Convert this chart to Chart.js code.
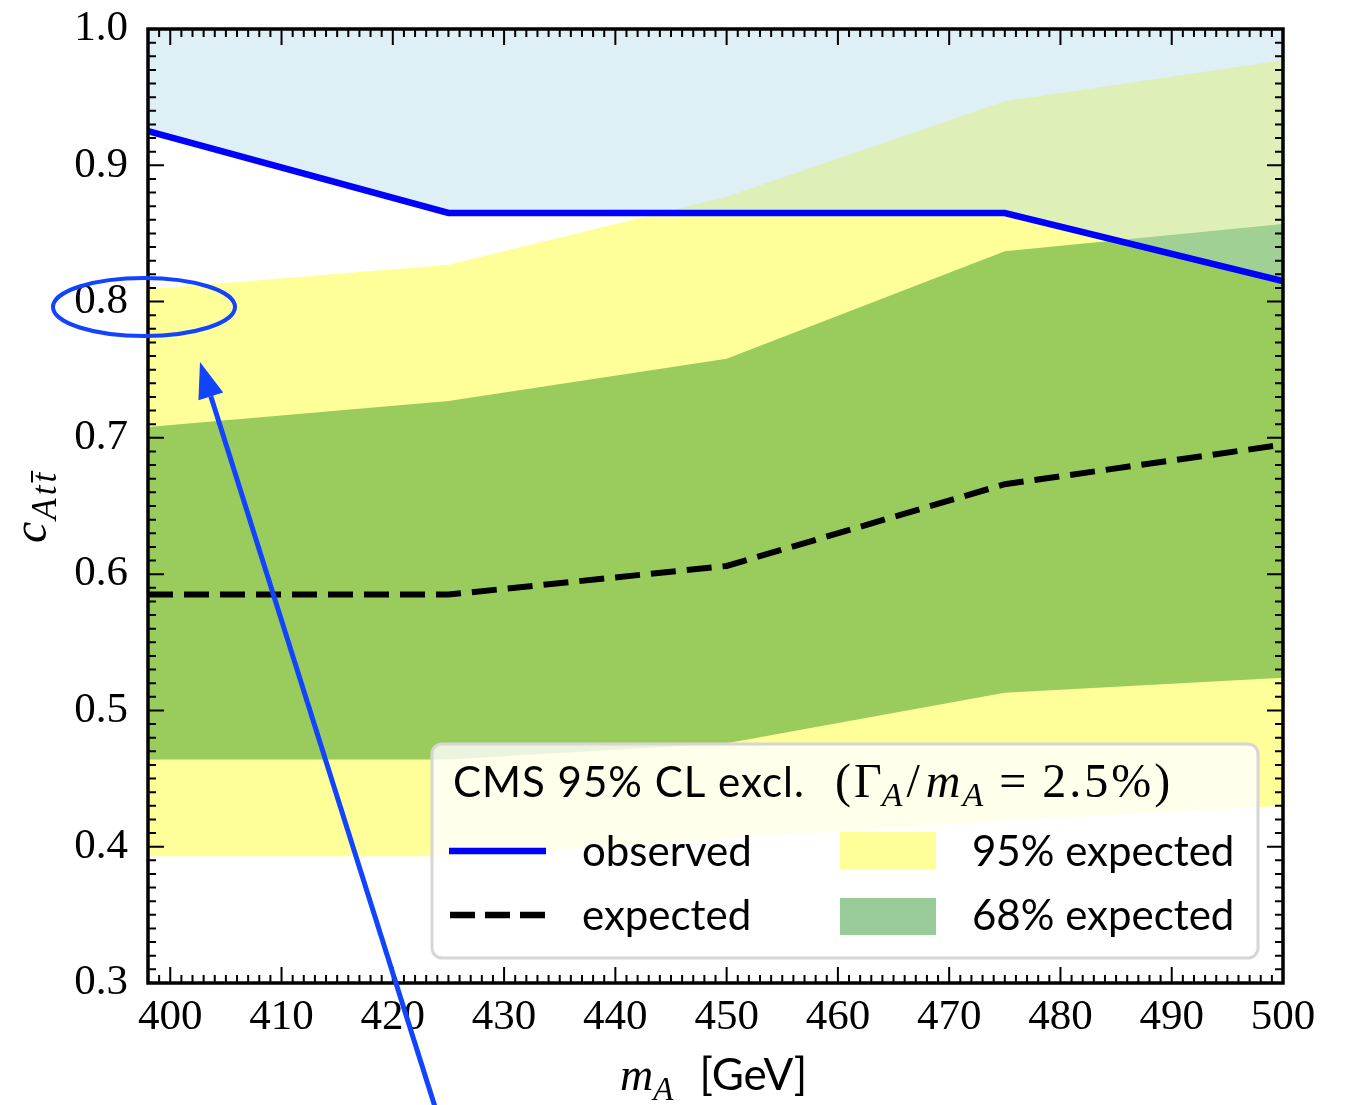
<!DOCTYPE html>
<html>
<head>
<meta charset="utf-8">
<script src="https://cdn.jsdelivr.net/npm/chart.js@4.4.1/dist/chart.umd.min.js"></script>
<style>
  html, body { margin: 0; padding: 0; background: #fff; }
  canvas { display: block; }
</style>
</head>
<body>
<canvas id="limits" width="1347" height="1105"></canvas>
<script>
// m_A grid (GeV) and the limits
const massPoints = [398, 425, 450, 475, 500];
const observed = [0.925, 0.865, 0.865, 0.865, 0.815];
const expected = [0.585, 0.585, 0.606, 0.666, 0.695];
const band68Low = [0.464, 0.464, 0.476, 0.513, 0.524];
const band68High = [0.708, 0.727, 0.758, 0.837, 0.857];
const band95Low = [0.393, 0.393, 0.406, 0.419, 0.430];
const band95High = [0.809, 0.827, 0.877, 0.947, 0.977];

const xTicks = [400, 410, 420, 430, 440, 450, 460, 470, 480, 490, 500];
const yTicks = [0.3, 0.4, 0.5, 0.6, 0.7, 0.8, 0.9, 1.0];

const serif = '"Liberation Serif", serif';
const sans = 'Lato, "Noto Sans", sans-serif';
const annotBlue = '#1244ff';

const pts = ys => massPoints.map((x, i) => ({ x: x, y: ys[i] }));

function drawPieces(ctx, x, y, pieces) {
    for (const p of pieces) {
        ctx.font = p.font;
        ctx.letterSpacing = p.spacing || '0px';
        x += p.before || 0;
        ctx.fillText(p.text, x, y + (p.dy || 0));
        x += ctx.measureText(p.text).width + (p.after || 0);
    }
    ctx.letterSpacing = '0px';
    return x;
}

const decorations = {
    id: 'decorations',
    afterDraw(chart) {
        const ctx = chart.ctx;
        const area = chart.chartArea;
        const xs = chart.scales.x;
        const ys = chart.scales.y;

        // inward ticks on all four sides
        ctx.save();
        ctx.strokeStyle = '#000';
        ctx.lineWidth = 2;
        ctx.beginPath();
        for (let m = 398; m <= 500; m++) {
            const px = xs.getPixelForValue(m);
            const len = m % 10 === 0 ? 16 : 8;
            ctx.moveTo(px, area.bottom); ctx.lineTo(px, area.bottom - len);
            ctx.moveTo(px, area.top); ctx.lineTo(px, area.top + len);
        }
        for (let k = 30; k <= 100; k++) {
            const py = ys.getPixelForValue(k / 100);
            const len = k % 10 === 0 ? 16 : 8;
            ctx.moveTo(area.left, py); ctx.lineTo(area.left + len, py);
            ctx.moveTo(area.right, py); ctx.lineTo(area.right - len, py);
        }
        ctx.stroke();
        ctx.lineWidth = 3.5;
        ctx.strokeRect(area.left, area.top, area.right - area.left, area.bottom - area.top);
        ctx.restore();

        // legend box
        ctx.save();
        ctx.beginPath();
        ctx.roundRect(432, 744, 826, 214, 10);
        ctx.fillStyle = 'rgba(255,255,255,0.8)';
        ctx.fill();
        ctx.lineWidth = 3;
        ctx.strokeStyle = '#d6d6d6';
        ctx.stroke();

        ctx.fillStyle = '#000';
        ctx.textBaseline = 'alphabetic';
        ctx.textAlign = 'left';
        const mFont = '48px ' + serif, mIt = 'italic 48px ' + serif, sIt = 'italic 34px ' + serif;
        drawPieces(ctx, 453, 797, [{ text: 'CMS 95% CL excl.', font: '42px ' + sans, spacing: '1px' }]);
        drawPieces(ctx, 835, 797, [
            { text: '(', font: mFont, after: 3 },
            { text: '\u0393', font: mFont },
            { text: 'A', font: sIt, dy: 9, after: 4 },
            { text: '/', font: mFont, after: 4 },
            { text: 'm', font: mIt, before: 2, spacing: '2px' },
            { text: 'A', font: sIt, dy: 9 },
            { text: '=', font: mFont, before: 16, after: 16 },
            { text: '2.5%', font: mFont, spacing: '3px' },
            { text: ')', font: mFont }
        ]);

        ctx.font = '42px ' + sans;
        ctx.fillText('observed', 582, 866);
        ctx.fillText('expected', 582, 930);
        ctx.fillText('95% expected', 972, 866);
        ctx.fillText('68% expected', 972, 930);

        ctx.lineWidth = 6.5;
        ctx.strokeStyle = '#0000ff';
        ctx.beginPath(); ctx.moveTo(449, 851); ctx.lineTo(546, 851); ctx.stroke();
        ctx.strokeStyle = '#000';
        ctx.setLineDash([25, 10]);
        ctx.beginPath(); ctx.moveTo(450, 915); ctx.lineTo(546, 915); ctx.stroke();
        ctx.setLineDash([]);
        ctx.fillStyle = 'rgba(255,255,0,0.4)';
        ctx.fillRect(840, 832, 96, 37);
        ctx.fillStyle = 'rgba(0,128,0,0.4)';
        ctx.fillRect(840, 898, 96, 37);
        ctx.restore();

        // axis titles
        ctx.save();
        ctx.fillStyle = '#000';
        ctx.textBaseline = 'alphabetic';
        drawPieces(ctx, 620, 1090, [
            { text: 'm', font: 'italic 46px ' + serif },
            { text: 'A', font: 'italic 33px ' + serif, dy: 10, after: 26 },
            { text: '[GeV]', font: '44px ' + sans }
        ]);
        ctx.translate(46, 543);
        ctx.rotate(-Math.PI / 2);
        const cx = drawPieces(ctx, 0, 0, [{ text: 'c', font: 'italic 48px ' + serif, after: 2 }]);
        ctx.font = 'italic 35px ' + serif;
        const endX = drawPieces(ctx, cx, 0, [{ text: 'Att', font: 'italic 35px ' + serif, dy: 10, spacing: '3px' }]);
        const tw = ctx.measureText('t').width;
        ctx.lineWidth = 2;
        ctx.strokeStyle = '#000';
        ctx.beginPath();
        ctx.moveTo(endX - tw - 3, -14); ctx.lineTo(endX - 1, -14);
        ctx.stroke();
        ctx.restore();

        // hand-drawn annotation: ellipse round 0.8 and arrow
        ctx.save();
        ctx.strokeStyle = annotBlue;
        ctx.fillStyle = annotBlue;
        ctx.lineWidth = 4;
        ctx.beginPath();
        ctx.ellipse(144, 307, 91, 29, 0, 0, Math.PI * 2);
        ctx.stroke();
        const x0 = 436, y0 = 1110, x1 = 200, y1 = 362;
        const ang = Math.atan2(y1 - y0, x1 - x0);
        const head = 36, half = 13;
        const bx = x1 - head * Math.cos(ang), by = y1 - head * Math.sin(ang);
        ctx.lineWidth = 5;
        ctx.beginPath(); ctx.moveTo(x0, y0); ctx.lineTo(bx, by); ctx.stroke();
        ctx.beginPath();
        ctx.moveTo(x1, y1);
        ctx.lineTo(bx + half * Math.sin(ang), by - half * Math.cos(ang));
        ctx.lineTo(bx - half * Math.sin(ang), by + half * Math.cos(ang));
        ctx.closePath();
        ctx.fill();
        ctx.restore();
    }
};

new Chart(document.getElementById('limits'), {
    type: 'line',
    data: {
        datasets: [
            { data: pts(band95Low), borderWidth: 0, borderColor: 'transparent', fill: false, order: 6 },
            { data: pts(band95High), borderWidth: 0, borderColor: 'transparent', fill: '-1', backgroundColor: 'rgba(255,255,0,0.4)', order: 5 },
            { data: pts(band68Low), borderWidth: 0, borderColor: 'transparent', fill: false, order: 4 },
            { data: pts(band68High), borderWidth: 0, borderColor: 'transparent', fill: '-1', backgroundColor: 'rgba(0,128,0,0.4)', order: 3 },
            { data: pts(expected), borderColor: '#000', borderWidth: 6, borderDash: [25, 11], fill: false, order: 2 },
            { data: pts(observed), borderColor: '#0000ff', borderWidth: 6.5, fill: 'end', backgroundColor: 'rgba(173,216,230,0.4)', order: 1 }
        ]
    },
    options: {
        responsive: false,
        animation: false,
        devicePixelRatio: 1,
        layout: { padding: { top: 29, right: 64, left: 0, bottom: 0 } },
        elements: { point: { radius: 0 }, line: { tension: 0 } },
        plugins: {
            legend: { display: false },
            tooltip: { enabled: false },
            filler: { propagate: false }
        },
        scales: {
            x: {
                type: 'linear', min: 398, max: 500,
                grid: { display: false, drawTicks: false },
                border: { display: false },
                ticks: { font: { family: serif, size: 43 }, color: '#000', padding: 9, maxRotation: 0, autoSkip: false },
                afterBuildTicks: s => { s.ticks = xTicks.map(v => ({ value: v })); },
                afterFit: s => { s.height = 122; s.paddingLeft = 0; s.paddingRight = 0; }
            },
            y: {
                type: 'linear', min: 0.3, max: 1.0,
                grid: { display: false, drawTicks: false },
                border: { display: false },
                ticks: { font: { family: serif, size: 43 }, color: '#000', padding: 20, callback: v => v.toFixed(1) },
                afterBuildTicks: s => { s.ticks = yTicks.map(v => ({ value: v })); },
                afterFit: s => { s.width = 148; s.paddingTop = 0; s.paddingBottom = 0; }
            }
        }
    },
    plugins: [decorations]
});
</script>
</body>
</html>
